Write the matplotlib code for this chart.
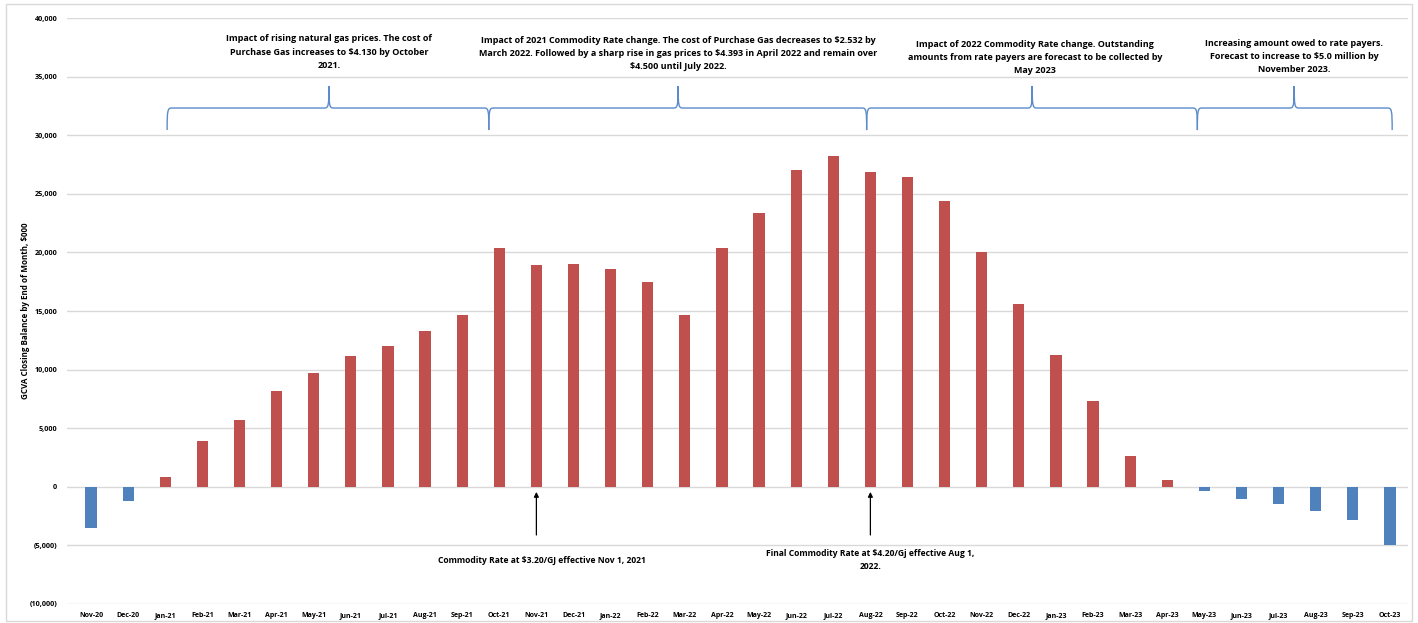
import matplotlib.pyplot as plt
import numpy as np
from matplotlib.patches import PathPatch, Rectangle
from matplotlib.path import Path
from matplotlib.ticker import FuncFormatter, MultipleLocator

# ===========================
# Data
# ===========================
months = [
    "Nov-20", "Dec-20", "Jan-21", "Feb-21", "Mar-21", "Apr-21", "May-21",
    "Jun-21", "Jul-21", "Aug-21", "Sep-21", "Oct-21", "Nov-21", "Dec-21",
    "Jan-22", "Feb-22", "Mar-22", "Apr-22", "May-22", "Jun-22", "Jul-22",
    "Aug-22", "Sep-22", "Oct-22", "Nov-22", "Dec-22", "Jan-23", "Feb-23",
    "Mar-23", "Apr-23", "May-23", "Jun-23", "Jul-23", "Aug-23", "Sep-23",
    "Oct-23",
]
balance = [
    -3500, -1200, 850, 3900, 5700, 8200, 9700, 11200, 12000, 13300, 14700,
    20400, 18950, 19000, 18600, 17500, 14700, 20400, 23400, 27000, 28250,
    26900, 26450, 24400, 20000, 15600, 11250, 7300, 2650, 600, -350, -1000,
    -1450, -2050, -2850, -5000,
]

# brace spans (start, tip, end) in category units
brace_spans = [
    (2.05, 6.41, 10.72),
    (10.72, 15.82, 20.9),
    (20.9, 25.36, 29.81),
    (29.81, 32.42, 35.06),
]
brace_notes = [
    "Impact of rising natural gas prices. The cost of\n"
    "Purchase Gas increases to \\$4.130 by October\n2021.",
    "Impact of 2021 Commodity Rate change. The cost of Purchase Gas decreases to \\$2.532 by\n"
    "March 2022. Followed by a sharp rise in gas prices to \\$4.393 in April 2022 and remain over\n"
    "\\$4.500 until July 2022.",
    "Impact of 2022 Commodity Rate change. Outstanding\n"
    "amounts from rate payers are forecast to be collected by\nMay 2023",
    "Increasing amount owed to rate payers.\n"
    "Forecast to increase to \\$5.0 million by\nNovember 2023.",
]
note_x = [6.41, 15.82, 25.44, 32.42]
note_tops = [38600, 38500, 38150, 38250]

arrow_months = ["Nov-21", "Aug-22"]
arrow_notes = [
    "Commodity Rate at \\$3.20/GJ effective Nov 1, 2021",
    "Final Commodity Rate at \\$4.20/Gj effective Aug 1,\n2022.",
]
arrow_text_x = [12.15, 21.0]
arrow_text_y = [-6250, -6250]

RED = "#C0504D"
BLUE = "#4F81BD"
BRACE = "#5B8BCB"

plt.rcParams["font.family"] = ["Open Sans", "DejaVu Sans"]


def draw_brace(ax, x0, xt, x1, y_end, y_line, y_tip):
    """Draw a curly brace opening downward with a tip pointing up."""
    dx = 0.12
    dy = (y_line - y_end) * 0.4
    verts = [
        (x0, y_end),
        (x0, y_line - dy * 0.3), (x0 + dx * 0.1, y_line), (x0 + dx, y_line),
        (xt - dx, y_line),
        (xt - dx * 0.1, y_line), (xt, y_line + dy * 0.3), (xt, y_tip),
        (xt, y_line + dy * 0.3), (xt + dx * 0.1, y_line), (xt + dx, y_line),
        (x1 - dx, y_line),
        (x1 - dx * 0.1, y_line), (x1, y_line - dy * 0.3), (x1, y_end),
    ]
    codes = [
        Path.MOVETO,
        Path.CURVE4, Path.CURVE4, Path.CURVE4,
        Path.LINETO,
        Path.CURVE4, Path.CURVE4, Path.CURVE4,
        Path.CURVE4, Path.CURVE4, Path.CURVE4,
        Path.LINETO,
        Path.CURVE4, Path.CURVE4, Path.CURVE4,
    ]
    ax.add_patch(
        PathPatch(Path(verts, codes), fill=False, edgecolor=BRACE, lw=1.0)
    )


fig = plt.figure(figsize=(14.18, 6.23), dpi=100)
fig.patches.append(
    Rectangle((0.004, 0.004), 0.992, 0.99, transform=fig.transFigure,
              fill=False, edgecolor="#D9D9D9", lw=1.0)
)
ax = fig.add_axes([0.0472, 0.0305, 0.9461, 0.9406])

x = np.arange(len(months))
colors = [RED if v >= 0 else BLUE for v in balance]
ax.bar(x, balance, width=0.3, color=colors, zorder=3)

ax.set_xlim(-0.65, 35.5)
ax.set_ylim(-10000, 40000)
ax.yaxis.set_major_locator(MultipleLocator(5000))
ax.yaxis.set_major_formatter(
    FuncFormatter(lambda v, p: f"({abs(v):,.0f})" if v < 0 else f"{v:,.0f}")
)
ax.grid(axis="y", color="#D9D9D9", lw=1.0, zorder=0)
for s in ax.spines.values():
    s.set_visible(False)
ax.tick_params(axis="both", length=0)
ax.tick_params(axis="x", pad=9.5, labelsize=5)
ax.tick_params(axis="y", pad=7, labelsize=5.2)
ax.set_xticks(x)
ax.set_xticklabels(months, fontweight="bold", va="baseline")
for lbl in ax.get_yticklabels():
    lbl.set_fontweight("bold")
ax.set_ylabel("GCVA Closing Balance by End of Month, $000", fontsize=5.8,
              fontweight="bold")
ax.yaxis.set_label_coords(-0.0276, 0.5)

# braces with notes
for (x0, xt, x1), nx, note, top in zip(brace_spans, note_x, brace_notes,
                                       note_tops):
    draw_brace(ax, x0, xt, x1, 30440, 32320, 34200)
    ax.text(nx, top, note, ha="center", va="top", fontsize=6.5,
            fontweight="bold", linespacing=1.6)

# arrows with notes
for m, note, tx, ty in zip(arrow_months, arrow_notes, arrow_text_x,
                           arrow_text_y):
    i = months.index(m)
    ax.annotate("", xy=(i, -200), xytext=(i, -4350),
                arrowprops=dict(arrowstyle="-|>", color="black", lw=0.9,
                                mutation_scale=7))
    ax.text(tx, ty, note, ha="center", va="center", fontsize=6.1,
            fontweight="bold", linespacing=1.6)

fig.savefig("out.png", dpi=100)
